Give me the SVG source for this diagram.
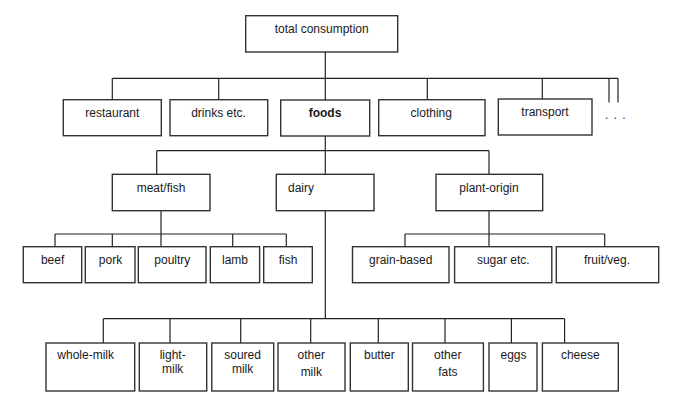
<svg xmlns="http://www.w3.org/2000/svg" width="685" height="413" viewBox="0 0 685 413">
<style>
  rect.box { fill: #ffffff; stroke: #333333; stroke-width: 1.4; }
  .conn path, .conn line { fill: none; stroke: #222222; stroke-width: 1.2; }
  text { font-family: "Liberation Sans", Arial, Helvetica, sans-serif; font-size: 12px; fill: #1a1a1a; text-anchor: middle; }
  text.b { font-weight: bold; }
</style>
<rect width="685" height="413" fill="#ffffff"/>
<g class="conn" id="connectors">
  <!-- level 1 -->
  <line x1="325.3" y1="52" x2="325.3" y2="100"/>
  <line x1="112.3" y1="78.3" x2="618" y2="78.3"/>
  <line x1="112.3" y1="78.3" x2="112.3" y2="99.7"/>
  <line x1="218.7" y1="78.3" x2="218.7" y2="99.7"/>
  <line x1="427.3" y1="78.3" x2="427.3" y2="99.7"/>
  <line x1="542.3" y1="78.3" x2="542.3" y2="99"/>
  <line x1="609" y1="78.3" x2="609" y2="102.5"/>
  <line x1="618" y1="78.3" x2="618" y2="102.5"/>
  <!-- foods -->
  <line x1="325.3" y1="136" x2="325.3" y2="174.3"/>
  <line x1="156.7" y1="150.7" x2="489" y2="150.7"/>
  <line x1="156.7" y1="150.7" x2="156.7" y2="174.3"/>
  <line x1="489" y1="150.7" x2="489" y2="174.3"/>
  <!-- meat/fish -->
  <line x1="161" y1="210.7" x2="161" y2="246.7"/>
  <line x1="55" y1="234" x2="286.3" y2="234"/>
  <line x1="55" y1="234" x2="55" y2="246.7"/>
  <line x1="112.3" y1="234" x2="112.3" y2="246.7"/>
  <line x1="232.7" y1="234" x2="232.7" y2="246.7"/>
  <line x1="286.3" y1="234" x2="286.3" y2="246.7"/>
  <!-- plant-origin -->
  <line x1="489" y1="210.7" x2="489" y2="246.7"/>
  <line x1="405" y1="234" x2="604.7" y2="234"/>
  <line x1="405" y1="234" x2="405" y2="246.7"/>
  <line x1="604.7" y1="234" x2="604.7" y2="246.7"/>
  <!-- dairy -->
  <line x1="325.3" y1="210.7" x2="325.3" y2="318.7"/>
  <line x1="103.3" y1="318.7" x2="564.6" y2="318.7"/>
  <line x1="103.3" y1="318.7" x2="103.3" y2="343"/>
  <line x1="170" y1="318.7" x2="170" y2="343"/>
  <line x1="240.7" y1="318.7" x2="240.7" y2="343"/>
  <line x1="310.7" y1="318.7" x2="310.7" y2="343"/>
  <line x1="378.3" y1="318.7" x2="378.3" y2="343"/>
  <line x1="445" y1="318.7" x2="445" y2="343"/>
  <line x1="511.4" y1="318.7" x2="511.4" y2="343"/>
  <line x1="564.6" y1="318.7" x2="564.6" y2="343"/>
</g>

<g id="total"><rect class="box" x="245.7" y="15.7" width="152" height="36.3"/><text x="321.7" y="32.5">total consumption</text></g>

<g id="restaurant"><rect class="box" x="63.3" y="99.7" width="98" height="36"/><text x="112.3" y="117">restaurant</text></g>
<g id="drinks"><rect class="box" x="170" y="99.7" width="97.7" height="36"/><text x="218.5" y="117">drinks etc.</text></g>
<g id="foods"><rect class="box" x="280.7" y="100" width="89" height="36"/><text class="b" x="325" y="117">foods</text></g>
<g id="clothing"><rect class="box" x="378.7" y="99.7" width="106.3" height="36"/><text x="431.3" y="117">clothing</text></g>
<g id="transport"><rect class="box" x="498.3" y="99" width="93.7" height="36"/><text x="545" y="115.7">transport</text></g>
<g id="more"><text x="615.8" y="118.5" letter-spacing="1">. . .</text></g>

<g id="meatfish"><rect class="box" x="112.3" y="174.3" width="97.7" height="36.4"/><text x="161" y="191.7">meat/fish</text></g>
<g id="dairy"><rect class="box" x="276.3" y="174.3" width="97.7" height="36.4"/><text x="288" y="191.7" style="text-anchor:start">dairy</text></g>
<g id="plant"><rect class="box" x="436" y="174.3" width="106.7" height="36.4"/><text x="489" y="191.7">plant-origin</text></g>

<g id="beef"><rect class="box" x="23.3" y="246.7" width="58.4" height="36"/><text x="52.6" y="264">beef</text></g>
<g id="pork"><rect class="box" x="85.3" y="246.7" width="49.7" height="36"/><text x="110.5" y="264">pork</text></g>
<g id="poultry"><rect class="box" x="138.3" y="246.7" width="67.7" height="36"/><text x="172.3" y="264">poultry</text></g>
<g id="lamb"><rect class="box" x="210.3" y="246.7" width="49.3" height="36"/><text x="235" y="264">lamb</text></g>
<g id="fish"><rect class="box" x="263.7" y="246.7" width="48.6" height="36"/><text x="288" y="264">fish</text></g>
<g id="grain"><rect class="box" x="352.5" y="246.7" width="96.5" height="36"/><text x="400.7" y="264">grain-based</text></g>
<g id="sugar"><rect class="box" x="454.6" y="246.7" width="97.2" height="36"/><text x="503.3" y="264">sugar etc.</text></g>
<g id="fruit"><rect class="box" x="556.3" y="246.7" width="102.4" height="36"/><text x="607" y="264">fruit/veg.</text></g>

<g id="wholemilk"><rect class="box" x="46" y="343" width="88.7" height="48"/><text x="85.7" y="359">whole-milk</text></g>
<g id="lightmilk"><rect class="box" x="139.3" y="343" width="67.4" height="48"/><text x="172.7" y="359">light-</text><text x="172.7" y="373">milk</text></g>
<g id="souredmilk"><rect class="box" x="211.8" y="343" width="61.9" height="48"/><text x="242.6" y="359">soured</text><text x="242.6" y="373">milk</text></g>
<g id="othermilk"><rect class="box" x="278" y="343" width="67" height="48"/><text x="311.3" y="359">other</text><text x="311.3" y="376">milk</text></g>
<g id="butter"><rect class="box" x="350.3" y="343" width="58" height="48"/><text x="379.3" y="359">butter</text></g>
<g id="otherfats"><rect class="box" x="412.5" y="343" width="70.9" height="48"/><text x="447.8" y="359">other</text><text x="447.8" y="376">fats</text></g>
<g id="eggs"><rect class="box" x="489" y="343" width="48" height="48"/><text x="513.5" y="359">eggs</text></g>
<g id="cheese"><rect class="box" x="542.4" y="343" width="75.9" height="48"/><text x="580.3" y="359">cheese</text></g>
</svg>
